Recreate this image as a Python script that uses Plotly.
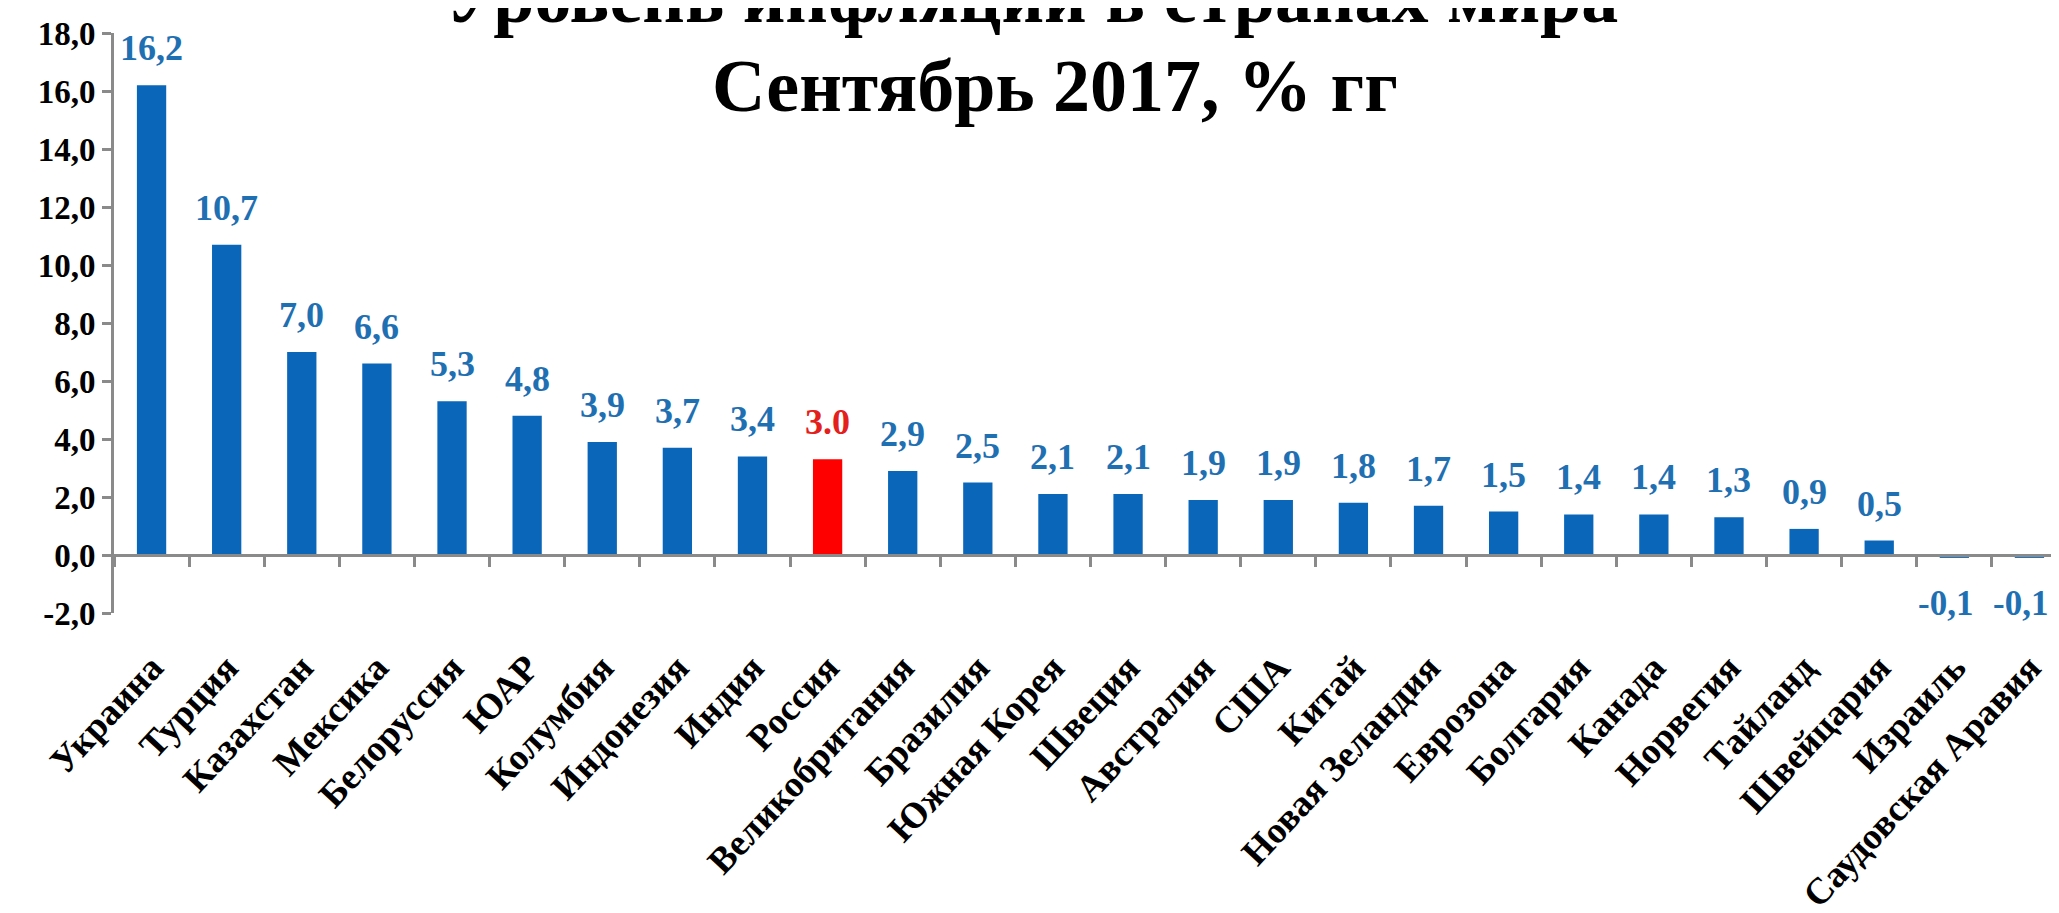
import plotly.graph_objects as go

countries = ["Украина", "Турция", "Казахстан", "Мексика", "Белоруссия", "ЮАР",
             "Колумбия", "Индонезия", "Индия", "Россия", "Великобритания",
             "Бразилия", "Южная Корея", "Швеция", "Австралия", "США", "Китай",
             "Новая Зеландия", "Еврозона", "Болгария", "Канада", "Норвегия",
             "Тайланд", "Швейцария", "Израиль", "Саудовская Аравия"]
inflation = [16.2, 10.7, 7.0, 6.6, 5.3, 4.8, 3.9, 3.7, 3.4, 3.3, 2.9, 2.5, 2.1,
             2.1, 1.9, 1.9, 1.8, 1.7, 1.5, 1.4, 1.4, 1.3, 0.9, 0.5, -0.1, -0.1]
value_labels = ["16,2", "10,7", "7,0", "6,6", "5,3", "4,8", "3,9", "3,7", "3,4",
                "3.0", "2,9", "2,5", "2,1", "2,1", "1,9", "1,9", "1,8", "1,7",
                "1,5", "1,4", "1,4", "1,3", "0,9", "0,5", "-0,1", "-0,1"]
highlight = "Россия"
title_line1 = "Уровень инфляции в странах мира"
title_line2 = "Сентябрь 2017, % гг"
y_ticks = [-2, 0, 2, 4, 6, 8, 10, 12, 14, 16, 18]
y_tick_labels = ["-2,0", "0,0", "2,0", "4,0", "6,0", "8,0", "10,0", "12,0",
                 "14,0", "16,0", "18,0"]

BLUE = "#0a66b8"
BLUE_TXT = "#1f70b2"
RED = "#ff0000"
RED_TXT = "#e3201b"
GRAY = "#8a8a8a"
SERIF = "Liberation Serif, DejaVu Serif, serif"

bar_colors = [RED if c == highlight else BLUE for c in countries]

fig = go.Figure()
fig.add_trace(go.Bar(x=countries, y=inflation, marker=dict(color=bar_colors, line=dict(width=0)),
                     hoverinfo="x+y"))

for c, v, t in zip(countries, inflation, value_labels):
    col = RED_TXT if c == highlight else BLUE_TXT
    if v >= 0:
        fig.add_annotation(x=c, y=v, text=f"<b>{t}</b>", showarrow=False,
                           yanchor="bottom", yshift=15,
                           font=dict(family=SERIF, size=36, color=col))
    else:
        fig.add_annotation(x=c, y=v, text=f"<b>{t}</b>", showarrow=False,
                           yanchor="top", yshift=-24, xshift=-9,
                           font=dict(family=SERIF, size=35, color=col))

fig.add_annotation(xref="paper", yref="paper", x=0.470, y=1.062, xanchor="center",
                   yanchor="middle", showarrow=False, text=f"<b>{title_line1}</b>",
                   font=dict(family=SERIF, size=74, color="#000000"))
fig.add_annotation(xref="paper", yref="paper", x=0.482, y=0.9086, xanchor="center",
                   yanchor="middle", showarrow=False, text=f"<b>{title_line2}</b>",
                   font=dict(family=SERIF, size=74, color="#000000"))

fig.update_layout(
    width=2059, height=913,
    margin=dict(l=106, r=0, t=25, b=308),
    paper_bgcolor="white", plot_bgcolor="white",
    showlegend=False,
    bargap=0.61,
    xaxis=dict(
        anchor="free", position=0.1, automargin=False,
        showline=True, linecolor=GRAY, linewidth=3,
        ticks="outside", tickson="boundaries", ticklen=10, tickwidth=3, tickcolor=GRAY,
        tickangle=-47, ticklabelstandoff=74,
        tickfont=dict(family=SERIF, size=37, color="#000000", weight="bold"),
        showgrid=False, zeroline=False,
    ),
    yaxis=dict(
        range=[-2, 18], tickvals=y_ticks, ticktext=y_tick_labels, automargin=False,
        showline=True, linecolor=GRAY, linewidth=3,
        ticks="outside", ticklen=9, tickwidth=3, tickcolor=GRAY,
        tickfont=dict(family=SERIF, size=33, color="#000000", weight="bold"),
        showgrid=False, zeroline=False,
    ),
)

fig.write_html("out.html")
